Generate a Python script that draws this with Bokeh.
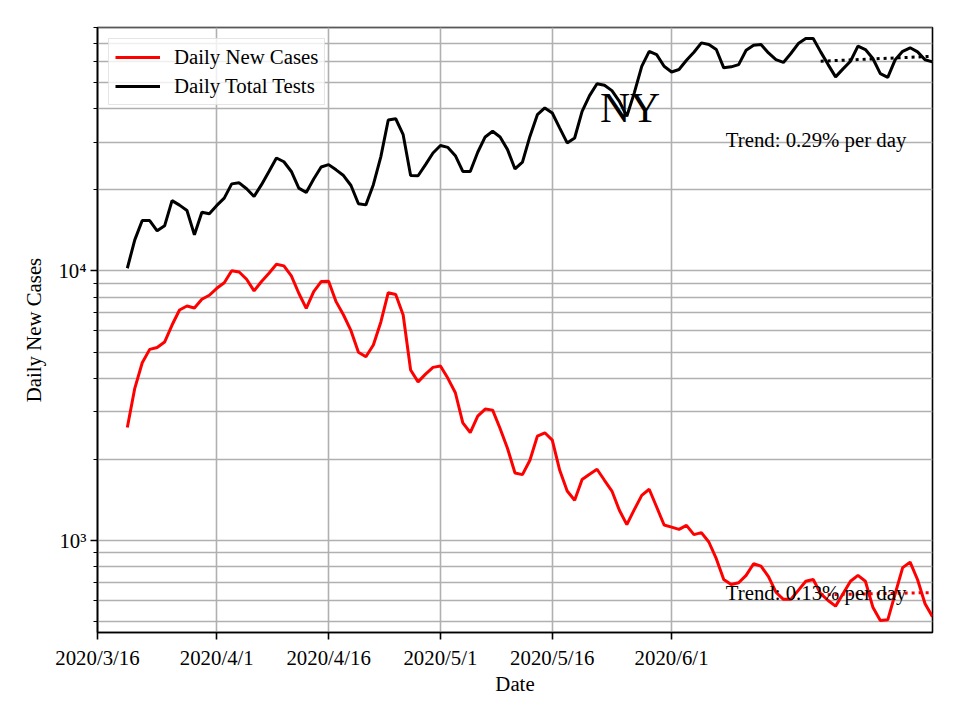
import pandas as pd
from bokeh.plotting import figure
from bokeh.models import (Range1d, FixedTicker, CustomJSTickFormatter, Legend,
                          LegendItem, Label, ColumnDataSource)
from bokeh.embed import file_html
from bokeh.resources import INLINE

# ---------------- data ----------------
first_day = "2020-03-20"
daily_new_cases = [
    2625, 3666, 4563, 5115, 5200, 5445, 6297, 7160, 7410, 7280,
    7850, 8120, 8620, 9040, 10020, 9910, 9310, 8430, 9130, 9800,
    10590, 10440, 9580, 8260, 7260, 8380, 9130, 9160, 7690, 6860,
    6000, 4990, 4800, 5310, 6450, 8300, 8180, 6860, 4290, 3875,
    4140, 4385, 4435, 3993, 3530, 2730, 2513, 2890, 3070, 3043,
    2600, 2192, 1779, 1754, 1982, 2437, 2507, 2354, 1820, 1524,
    1408, 1682, 1760, 1836, 1671, 1524, 1293, 1144, 1300, 1469,
    1548, 1330, 1140, 1120, 1098, 1137, 1050, 1068, 986, 855,
    716, 686, 696, 741, 819, 802, 734, 642, 604, 604,
    652, 705, 716, 634, 598, 570, 634, 705, 741, 705,
    565, 504, 507, 634, 792, 830, 714, 582, 521,
]
daily_total_tests = [
    10230, 13040, 15380, 15380, 14090, 14700, 18230, 17540, 16750, 13610,
    16520, 16290, 17500, 18630, 21040, 21230, 20180, 18880, 20900, 23380,
    26240, 25420, 23390, 20290, 19530, 21930, 24300, 24800, 23720, 22590,
    20750, 17750, 17580, 20900, 26500, 36300, 36700, 32040, 22600, 22550,
    24790, 27400, 29190, 28730, 26770, 23390, 23390, 27560, 31420, 32970,
    31420, 28190, 23900, 25350, 31550, 38000, 40270, 38550, 33880, 29850,
    31140, 39090, 44740, 49470, 48850, 46680, 42590, 37500, 45800, 57450,
    65300, 63500, 57450, 54750, 55900, 60500, 64800, 70200, 69200, 66300,
    56700, 57200, 58300, 65900, 68800, 69200, 64400, 60800, 59400, 64100,
    69800, 72800, 72800, 65000, 58300, 52500, 56200, 60000, 68300, 66300,
    61400, 54000, 52300, 60800, 65300, 67300, 65000, 60800, 59700,
]
trend_dates = ["2020-06-21", "2020-07-06"]
tests_trend = [60000, 62600]
cases_trend = [628, 640]

x_tick_dates = ["2020-03-16", "2020-04-01", "2020-04-16",
                "2020-05-01", "2020-05-16", "2020-06-01"]
y_major_ticks = [1000, 10000]
y_minor_ticks = [500, 600, 700, 800, 900,
                 2000, 3000, 4000, 5000, 6000, 7000, 8000, 9000,
                 20000, 30000, 40000, 50000, 60000, 70000, 80000]

title_text = "NY"
tests_trend_text = "Trend: 0.29% per day"
cases_trend_text = "Trend: 0.13% per day"

# ---------------- build ----------------
dates = pd.date_range(first_day, periods=len(daily_new_cases), freq="D")
src = ColumnDataSource(dict(date=dates, cases=daily_new_cases, tests=daily_total_tests))
tsrc = ColumnDataSource(dict(date=pd.to_datetime(trend_dates), tests=tests_trend, cases=cases_trend))

FONT = "Liberation Serif"
FS = "20.8px"

p = figure(
    x_axis_type="datetime", y_axis_type="log",
    x_range=Range1d(pd.Timestamp("2020-03-16"), pd.Timestamp("2020-07-06")),
    y_range=Range1d(455, 80050),
    frame_width=835, frame_height=605,
    min_border_left=97, min_border_right=12, min_border_top=27, min_border_bottom=72,
    output_backend="svg", toolbar_location=None,
)
p.background_fill_color = "white"
p.border_fill_color = "white"
p.outline_line_color = "black"
p.outline_line_width = 1.6

r_cases = p.line("date", "cases", source=src, line_color="red", line_width=3)
r_tests = p.line("date", "tests", source=src, line_color="black", line_width=3)
p.line("date", "tests", source=tsrc, line_color="black", line_width=3, line_dash="3 4")
p.line("date", "cases", source=tsrc, line_color="red", line_width=3, line_dash="3 4")

# x axis
xt = [pd.Timestamp(d).value // 10**6 for d in x_tick_dates]
p.xaxis.ticker = FixedTicker(ticks=xt)
p.xaxis.formatter = CustomJSTickFormatter(code="""
const d = new Date(tick);
return d.getUTCFullYear() + "/" + (d.getUTCMonth() + 1) + "/" + d.getUTCDate();
""")
p.xaxis.axis_label = "Date"

# y axis
p.yaxis.ticker = FixedTicker(ticks=y_major_ticks, minor_ticks=y_minor_ticks)
p.yaxis.formatter = CustomJSTickFormatter(code="""
const e = Math.round(Math.log10(tick));
const sup = {"0":"\u2070","1":"\u00b9","2":"\u00b2","3":"\u00b3","4":"\u2074","5":"\u2075","6":"\u2076","7":"\u2077","8":"\u2078","9":"\u2079"};
return "10" + String(e).split("").map(c => sup[c]).join("");
""")
p.yaxis.axis_label = "Daily New Cases"

for ax in (p.xaxis[0], p.yaxis[0]):
    ax.axis_line_color = "black"
    ax.axis_line_width = 1.6
    ax.major_tick_line_color = "black"
    ax.major_tick_line_width = 1.6
    ax.major_tick_out = 7
    ax.major_tick_in = 0
    ax.minor_tick_line_color = "black"
    ax.minor_tick_line_width = 1.2
    ax.minor_tick_out = 4
    ax.minor_tick_in = 0
    ax.major_label_text_font = FONT
    ax.major_label_text_font_size = FS
    ax.major_label_text_color = "black"
    ax.axis_label_text_font = FONT
    ax.axis_label_text_font_size = FS
    ax.axis_label_text_font_style = "normal"
    ax.axis_label_text_color = "black"

p.xaxis.minor_tick_line_color = None
p.xaxis.major_label_standoff = 6
p.xaxis.axis_label_standoff = 0
p.yaxis.major_label_standoff = 4
p.yaxis.axis_label_standoff = 10

# grid
p.xgrid.grid_line_color = "#b0b0b0"
p.xgrid.grid_line_width = 1.6
p.ygrid.grid_line_color = "#b0b0b0"
p.ygrid.grid_line_width = 1.6
p.ygrid.minor_grid_line_color = "#b0b0b0"
p.ygrid.minor_grid_line_width = 1.6

# annotations
p.add_layout(Label(x=pd.Timestamp("2020-05-22"), y=40300, text=title_text,
                   text_font=FONT, text_font_size="41.7px", text_color="black",
                   text_baseline="alphabetic", text_align="left", x_offset=3))
p.add_layout(Label(x=pd.Timestamp("2020-06-08"), y=30800, text=tests_trend_text,
                   text_font=FONT, text_font_size=FS, text_color="black",
                   text_baseline="alphabetic", text_align="left", x_offset=2))
p.add_layout(Label(x=pd.Timestamp("2020-06-08"), y=641, text=cases_trend_text,
                   text_font=FONT, text_font_size=FS, text_color="black",
                   text_baseline="alphabetic", text_align="left", x_offset=2))

legend = Legend(
    items=[LegendItem(label="Daily New Cases", renderers=[r_cases]),
           LegendItem(label="Daily Total Tests", renderers=[r_tests])],
    location="top_left", margin=11, padding=6, spacing=5,
    glyph_width=45, glyph_height=20, label_height=20, label_standoff=14,
    label_text_font=FONT, label_text_font_size=FS, label_text_color="black",
    border_line_color="#cccccc", border_line_width=1.6,
    background_fill_color="white", background_fill_alpha=0.8,
)
p.add_layout(legend)

open("out.html", "w").write(file_html(p, INLINE))
